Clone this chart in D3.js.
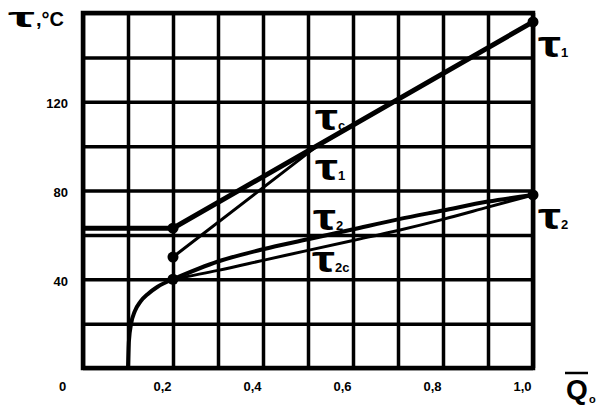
<!DOCTYPE html>
<html>
<head>
<meta charset="utf-8">
<script src="https://cdn.jsdelivr.net/npm/d3@7"></script>
<style>
  html, body { margin: 0; padding: 0; background: #fff; }
  svg { display: block; }
  text { font-family: "Liberation Sans", Arial, sans-serif; fill: #000; }
</style>
</head>
<body>
<svg id="chart" width="602" height="409"></svg>
<script>
// ---- data ----
const xTicks = [0, 0.2, 0.4, 0.6, 0.8, 1.0];
const xTickLabels = ["0", "0,2", "0,4", "0,6", "0,8", "1,0"];
const yTicks = [40, 80, 120];
const yTickLabels = ["40", "80", "120"];

// tau_c : mixed water temperature
const tcQ = [0, 0.2, 1.0];
const tcT = [63, 63, 156];
// tau_1 : supply water temperature
const t1Q = [0.2, 0.52, 1.0];
const t1T = [50, 100, 156];
// tau_2 : return water temperature
const t2Q = [0.2, 0.3, 0.4, 0.5, 0.6, 0.7, 0.8, 0.9, 1.0];
const t2T = [40, 48, 53.5, 58, 62.5, 67, 71, 75, 78];
// tau_2c : return water temperature (design)
const t2cQ = [0.2, 0.3, 0.4, 0.5, 0.6, 0.7, 0.8, 0.9, 1.0];
const t2cT = [40, 44, 48.5, 53, 57.5, 62, 67, 72.5, 78];
// low-load branch of tau_2
const lowQ = [0.1, 0.102, 0.107, 0.115, 0.128, 0.145, 0.165, 0.2];
const lowT = [0, 12, 20, 25.5, 30, 33.5, 36.5, 40];
// marked points
const dotQ = [0.2, 0.2, 0.2, 1.0, 1.0];
const dotT = [63, 50, 40, 156, 78];

// ---- layout ----
const svg = d3.select("#chart");
const x = d3.scaleLinear().domain([0, 1]).range([83, 533]);
const y = d3.scaleLinear().domain([0, 160]).range([368, 13]);

// grid
const gridX = d3.range(0, 11).map(i => i / 10);
const gridY = d3.range(0, 9).map(i => i * 20);
svg.append("g")
  .attr("transform", `translate(0,${y(0)})`)
  .call(d3.axisBottom(x).tickValues(gridX).tickSize(-(y(0) - y(160))).tickFormat(""))
  .call(g => g.select(".domain").remove())
  .call(g => g.selectAll("line").attr("stroke", "#000").attr("stroke-width", 3.5));
svg.append("g")
  .attr("transform", `translate(${x(0)},0)`)
  .call(d3.axisLeft(y).tickValues(gridY).tickSize(-(x(1) - x(0))).tickFormat(""))
  .call(g => g.select(".domain").remove())
  .call(g => g.selectAll("line").attr("stroke", "#000").attr("stroke-width", 3.5));
// frame
svg.append("rect")
  .attr("x", x(0)).attr("y", y(160))
  .attr("width", x(1) - x(0)).attr("height", y(0) - y(160))
  .attr("fill", "none").attr("stroke", "#000").attr("stroke-width", 4.5);

// tick labels
const xAxis = svg.append("g")
  .attr("transform", `translate(0,${y(0)})`)
  .call(d3.axisBottom(x).tickValues(xTicks).tickSize(0).tickFormat((d, i) => xTickLabels[i]));
xAxis.select(".domain").remove();
xAxis.selectAll("text")
  .attr("y", 23).attr("dy", null)
  .attr("dx", (d, i) => i === 0 ? -21 : -11)
  .attr("font-size", 13).attr("font-weight", "bold")
  .attr("font-family", "Liberation Sans, Arial, sans-serif").attr("fill", "#000");

const yAxis = svg.append("g")
  .attr("transform", `translate(${x(0)},0)`)
  .call(d3.axisLeft(y).tickValues(yTicks).tickSize(0).tickFormat((d, i) => yTickLabels[i]));
yAxis.select(".domain").remove();
yAxis.selectAll("text")
  .attr("x", -15).attr("dy", "0.45em")
  .attr("font-size", 13).attr("font-weight", "bold")
  .attr("font-family", "Liberation Sans, Arial, sans-serif").attr("fill", "#000");

// ---- series ----
const zip = (a, b) => a.map((v, i) => [v, b[i]]);
const mk = c => d3.line().x(d => x(d[0])).y(d => y(d[1])).curve(c);

svg.append("path").datum(zip(t2cQ, t2cT))
  .attr("d", mk(d3.curveMonotoneX))
  .attr("fill", "none").attr("stroke", "#000").attr("stroke-width", 3);
svg.append("path").datum(zip(t2Q, t2T))
  .attr("d", mk(d3.curveMonotoneX))
  .attr("fill", "none").attr("stroke", "#000").attr("stroke-width", 4);
svg.append("path").datum(zip(lowQ, lowT))
  .attr("d", mk(d3.curveMonotoneX))
  .attr("fill", "none").attr("stroke", "#000").attr("stroke-width", 4);
svg.append("path").datum(zip(t1Q, t1T))
  .attr("d", mk(d3.curveLinear))
  .attr("fill", "none").attr("stroke", "#000").attr("stroke-width", 3);
svg.append("path").datum(zip(tcQ, tcT))
  .attr("d", mk(d3.curveLinear))
  .attr("fill", "none").attr("stroke", "#000").attr("stroke-width", 5);

svg.append("g").selectAll("circle").data(zip(dotQ, dotT)).join("circle")
  .attr("cx", d => x(d[0])).attr("cy", d => y(d[1])).attr("r", 5.5).attr("fill", "#000");

// ---- labels ----
function tauLabel(px, py, sub) {
  svg.append("text").attr("x", px).attr("y", py)
    .attr("font-family", "DejaVu Serif, serif").attr("font-weight", "bold")
    .attr("font-size", 36)
    .attr("textLength", 23).attr("lengthAdjust", "spacingAndGlyphs")
    .text("τ");
  svg.append("text").attr("x", px + 23).attr("y", py)
    .attr("font-size", 13).attr("font-weight", "bold")
    .text(sub);
}
tauLabel(315, 130, "c");
tauLabel(315, 180, "1");
tauLabel(313, 230, "2");
tauLabel(312, 272, "2c");
tauLabel(538, 57, "1");
tauLabel(538, 229, "2");

// y title
svg.append("text").attr("x", 8).attr("y", 27)
  .attr("font-family", "DejaVu Serif, serif").attr("font-weight", "bold")
  .attr("font-size", 28)
  .attr("textLength", 27).attr("lengthAdjust", "spacingAndGlyphs")
  .text("τ");
svg.append("text").attr("x", 36).attr("y", 26)
  .attr("font-size", 20).attr("font-weight", "bold")
  .text(",°C");

// x title
svg.append("text").attr("x", 566).attr("y", 399)
  .attr("font-size", 28).attr("font-weight", "bold")
  .text("Q");
svg.append("line").attr("x1", 565).attr("x2", 588).attr("y1", 373).attr("y2", 373)
  .attr("stroke", "#000").attr("stroke-width", 2.5);
svg.append("text").attr("x", 589).attr("y", 403)
  .attr("font-size", 11).attr("font-weight", "bold").text("о");
</script>
</body>
</html>
